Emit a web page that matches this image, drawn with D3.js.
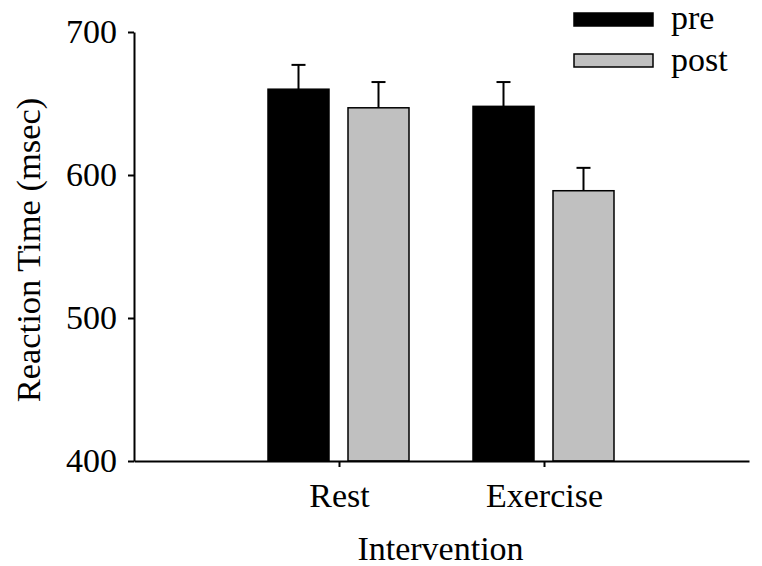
<!DOCTYPE html>
<html>
<head>
<meta charset="utf-8">
<script src="https://cdn.jsdelivr.net/npm/d3@7"></script>
<style>
  body { margin: 0; background: #fff; }
  text { font-family: "Liberation Serif", "Times New Roman", serif; fill: #000; }
</style>
</head>
<body>
<svg id="chart" width="762" height="566"></svg>
<script>
const categories = ["Rest", "Exercise"];
const seriesNames = ["pre", "post"];
const preValues = [660, 648];
const postValues = [647, 589];
const preErrors = [17, 17];
const postErrors = [18, 16];
const yTicks = [400, 500, 600, 700];
const colors = { pre: "#000000", post: "#c0c0c0" };

const data = categories.map((c, i) => ({
  cat: c,
  vals: [
    { s: "pre", v: preValues[i], e: preErrors[i] },
    { s: "post", v: postValues[i], e: postErrors[i] }
  ]
}));

const svg = d3.select("#chart");
const mLeft = 134, mRight = 749, mTop = 32, mBottom = 461;

const x = d3.scalePoint().domain(categories).range([mLeft, mRight]).padding(1);
const x1 = d3.scaleBand().domain(seriesNames).range([-71, 70]).paddingInner(0.2375);
const y = d3.scaleLinear().domain([400, 700]).range([mBottom, mTop]);

// bars
const g = svg.append("g");
const groups = g.selectAll("g.grp").data(data).join("g")
  .attr("transform", d => `translate(${x(d.cat)},0)`);

// error bars (drawn first so bars cover the bottom of the stem)
groups.selectAll("g.err").data(d => d.vals).join("g").each(function(d) {
  const cx = x1(d.s) + x1.bandwidth() / 2;
  const sel = d3.select(this);
  sel.append("line").attr("x1", cx).attr("x2", cx)
    .attr("y1", y(d.v)).attr("y2", y(d.v + d.e))
    .attr("stroke", "#000").attr("stroke-width", 2);
  sel.append("line").attr("x1", cx - 7).attr("x2", cx + 7)
    .attr("y1", y(d.v + d.e)).attr("y2", y(d.v + d.e))
    .attr("stroke", "#000").attr("stroke-width", 2);
});

groups.selectAll("rect").data(d => d.vals).join("rect")
  .attr("x", d => x1(d.s))
  .attr("width", x1.bandwidth())
  .attr("y", d => y(d.v))
  .attr("height", d => y(400) - y(d.v))
  .attr("fill", d => colors[d.s])
  .attr("stroke", "#000")
  .attr("stroke-width", 1.5);

// y axis
const yAxis = d3.axisLeft(y).tickValues(yTicks).tickSize(6).tickPadding(11).tickSizeOuter(0);
const ya = svg.append("g").attr("transform", `translate(${mLeft},0)`).call(yAxis);
ya.select(".domain").attr("stroke-width", 2);
ya.selectAll(".tick line").attr("stroke-width", 2);
ya.selectAll("text").style("font-size", "34px").style("font-family", "'Liberation Serif', serif");

// x axis
const xAxis = d3.axisBottom(x).tickSize(6).tickPadding(16).tickSizeOuter(0);
const xa = svg.append("g").attr("transform", `translate(0,${mBottom})`).call(xAxis);
xa.select(".domain").attr("stroke-width", 2);
xa.selectAll(".tick line").attr("stroke-width", 2);
xa.selectAll("text").style("font-size", "34px").style("font-family", "'Liberation Serif', serif");

// axis titles
svg.append("text")
  .attr("transform", `translate(40,250) rotate(-90)`)
  .attr("text-anchor", "middle")
  .style("font-size", "34.5px")
  .text("Reaction Time (msec)");

svg.append("text")
  .attr("x", x.range()[0] + (x.range()[1] - x.range()[0]) / 2 - 1)
  .attr("y", 560)
  .attr("text-anchor", "middle")
  .style("font-size", "34px")
  .text("Intervention");

// legend
const legend = svg.append("g");
seriesNames.forEach((s, i) => {
  legend.append("rect")
    .attr("x", 574).attr("y", 13 + i * 41)
    .attr("width", 79).attr("height", 13)
    .attr("fill", colors[s]).attr("stroke", "#000").attr("stroke-width", 1.5);
  legend.append("text")
    .attr("x", 671).attr("y", 29 + i * 42)
    .style("font-size", "34px")
    .text(s);
});
</script>
</body>
</html>
